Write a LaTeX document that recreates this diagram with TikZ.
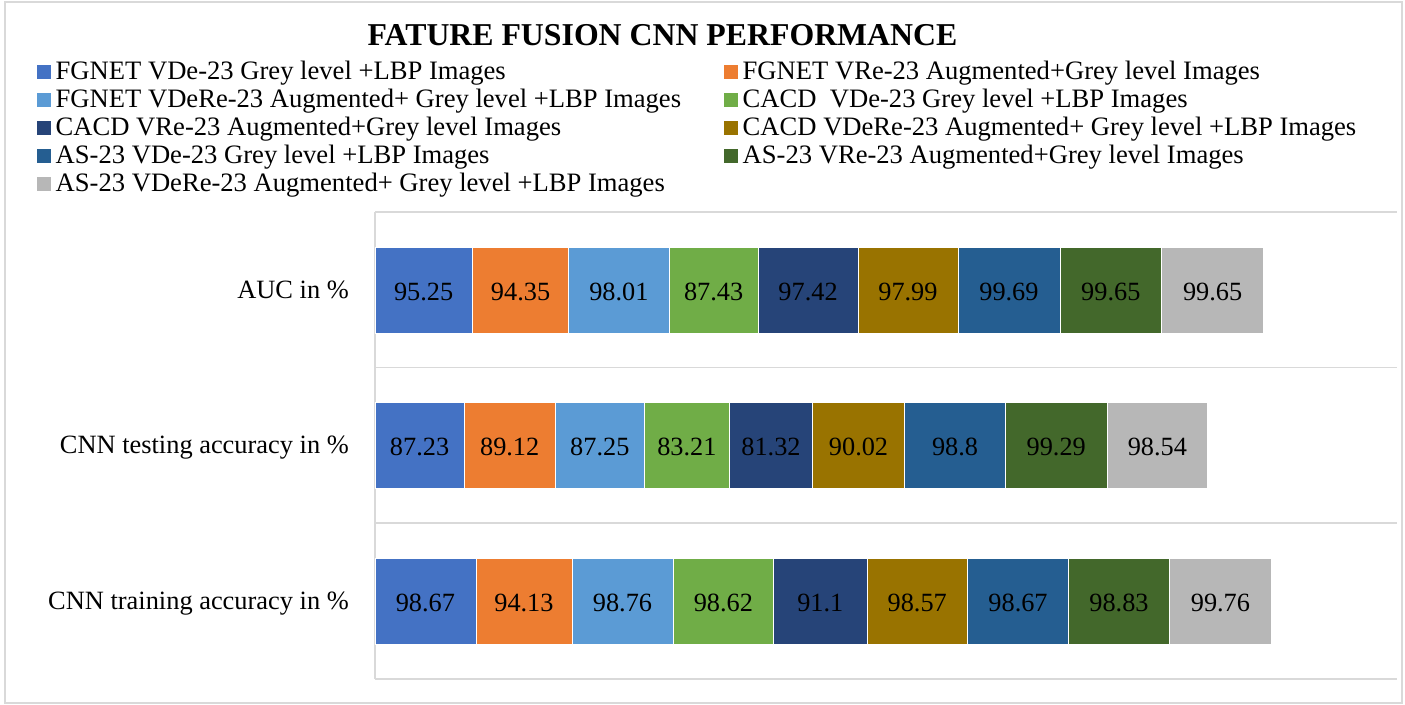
\documentclass[tikz,border=0pt]{standalone}
\usepackage{fontspec}
\setmainfont{Liberation Serif}
\definecolor{c1}{HTML}{4472C4}
\definecolor{c2}{HTML}{ED7D31}
\definecolor{c3}{HTML}{5B9BD5}
\definecolor{c4}{HTML}{70AD47}
\definecolor{c5}{HTML}{264478}
\definecolor{c6}{HTML}{997300}
\definecolor{c7}{HTML}{255E91}
\definecolor{c8}{HTML}{43682B}
\definecolor{c9}{HTML}{B7B7B7}
\definecolor{gridgrey}{HTML}{D9D9D9}
\newcommand{\mybarrow}[3]{%
  \xdef\acc{0}%
  \foreach \v/\c [count=\i] in {#2} {%
    \pgfmathsetmacro\xa{375+1.022*\acc}%
    \pgfmathsetmacro\xb{375+1.022*(\acc+\v)}%
    \pgfmathsetmacro\xm{(\xa+\xb)/2}%
    \fill[\c, draw=white, line width=0.6pt] (\xa,#1-43) rectangle (\xb,#1+43);
    \node[valtext] (#3\i) at (\xm,#1+1) {\v};
    \pgfmathsetmacro\newacc{\acc+\v}%
    \xdef\acc{\newacc}%
  }%
}
\begin{document}
\begin{tikzpicture}[x=1pt,y=-1pt,
  valtext/.style={font=\fontsize{26.3pt}{28pt}\selectfont, inner sep=0pt, text=black},
  cattext/.style={font=\fontsize{26.4pt}{28pt}\selectfont, inner sep=0pt, anchor=base east},
  legtext/.style={font=\fontsize{26.6pt}{28pt}\selectfont, inner sep=0pt, anchor=base west},
  legbox/.style={minimum size=14.5pt, inner sep=0pt},
  gridline/.style={draw=gridgrey, line width=1.3pt}]
\useasboundingbox (0,0) rectangle (1405,704);
\fill[white] (0,0) rectangle (1405,704);
\draw[gridgrey, line width=1.2pt] (5,2) rectangle (1402,703);
% title
\node[font=\fontsize{31.8pt}{34pt}\selectfont\bfseries, inner sep=0pt, anchor=base] (title) at (662.5,45.5) {FATURE FUSION CNN PERFORMANCE};
% legend
\foreach \t/\c/\xx/\yy [count=\k] in {
  {FGNET VDe-23 Grey level +LBP Images}/c1/44/0,
  {FGNET VRe-23 Augmented+Grey level Images}/c2/731/0,
  {FGNET VDeRe-23 Augmented+ Grey level +LBP Images}/c3/44/1,
  {CACD\ \ VDe-23 Grey level +LBP Images}/c4/731/1,
  {CACD VRe-23 Augmented+Grey level Images}/c5/44/2,
  {CACD VDeRe-23 Augmented+ Grey level +LBP Images}/c6/731/2,
  {AS-23 VDe-23 Grey level +LBP Images}/c7/44/3,
  {AS-23 VRe-23 Augmented+Grey level Images}/c8/731/3,
  {AS-23 VDeRe-23 Augmented+ Grey level +LBP Images}/c9/44/4} {
  \node[legbox, fill=\c] (lb\k) at (\xx,72+28*\yy) {};
  \node[legtext] (lt\k) at (\xx+11.5,79+28*\yy) {\t};
}
% grid
\draw[gridline] (375,212) -- (1397,212);
\draw[gridline] (375,367.5) -- (1397,367.5);
\draw[gridline] (375,523) -- (1397,523);
\draw[gridline] (375,679) -- (1397,679);
\draw[gridline] (375,212) -- (375,679);
% bars
\mybarrow{290.5}{95.25/c1,94.35/c2,98.01/c3,87.43/c4,97.42/c5,97.99/c6,99.69/c7,99.65/c8,99.65/c9}{a}
\mybarrow{445.5}{87.23/c1,89.12/c2,87.25/c3,83.21/c4,81.32/c5,90.02/c6,98.8/c7,99.29/c8,98.54/c9}{b}
\mybarrow{601.5}{98.67/c1,94.13/c2,98.76/c3,98.62/c4,91.1/c5,98.57/c6,98.67/c7,98.83/c8,99.76/c9}{c}
% category labels
\node[cattext] (cat1) at (349,298.5) {AUC in \%};
\node[cattext] (cat2) at (349,453.5) {CNN testing accuracy in \%};
\node[cattext] (cat3) at (349,609.5) {CNN training accuracy in \%};
\end{tikzpicture}
\end{document}
